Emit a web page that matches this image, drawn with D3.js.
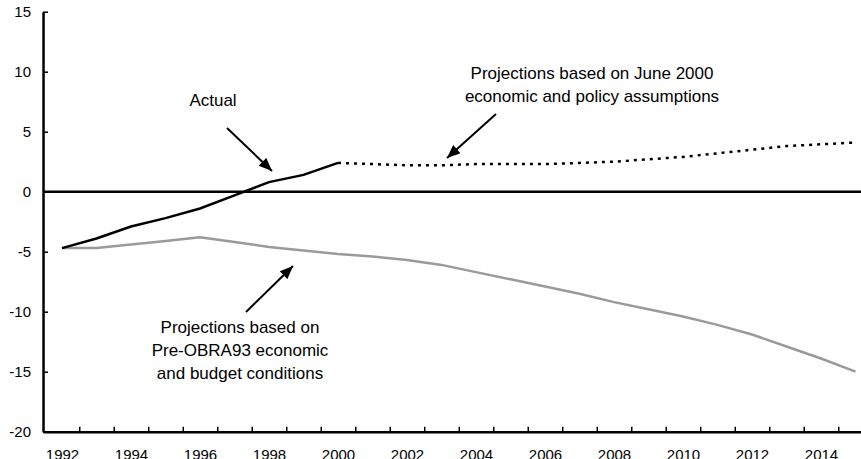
<!DOCTYPE html>
<html>
<head>
<meta charset="utf-8">
<script src="https://cdn.jsdelivr.net/npm/d3@7"></script>
<style>
  body { margin: 0; background: #fff; }
  svg { display: block; font-family: "Liberation Sans", Arial, sans-serif; }
</style>
</head>
<body>
<script>
// values, % of GDP
var actualYears = [1992, 1993, 1994, 1995, 1996, 1997, 1998, 1999, 2000];
var actualValues = [-4.7, -3.9, -2.9, -2.2, -1.4, -0.3, 0.8, 1.4, 2.4];

var juneYears = [2000, 2001, 2002, 2003, 2004, 2005, 2006, 2007, 2008, 2009, 2010, 2011, 2012, 2013, 2014, 2015];
var juneValues = [2.4, 2.3, 2.2, 2.2, 2.3, 2.3, 2.3, 2.4, 2.5, 2.7, 2.9, 3.2, 3.5, 3.8, 3.95, 4.1];

var obraYears = [1992, 1993, 1994, 1995, 1996, 1997, 1998, 1999, 2000, 2001, 2002, 2003, 2004, 2005, 2006, 2007, 2008, 2009, 2010, 2011, 2012, 2013, 2014, 2015];
var obraValues = [-4.7, -4.7, -4.4, -4.1, -3.8, -4.2, -4.6, -4.9, -5.2, -5.4, -5.7, -6.1, -6.7, -7.3, -7.9, -8.5, -9.2, -9.8, -10.4, -11.1, -11.9, -12.9, -13.9, -15.0];

var yTicks = [-20, -15, -10, -5, 0, 5, 10, 15];
var yearLabels = [1992, 1994, 1996, 1998, 2000, 2002, 2004, 2006, 2008, 2010, 2012, 2014];
var yearTicks = d3.range(1992.5, 2016, 1);

var zip = function(xs, vs) {
  return xs.map(function(d, i) { return { year: d, value: vs[i] }; });
};

var width = 861, height = 459;

var svg = d3.select('body').append('svg')
  .attr('width', width)
  .attr('height', height);

svg.append('rect').attr('width', width).attr('height', height).attr('fill', '#fff');

var x = d3.scaleLinear().domain([1992, 2014]).range([62, 821]);
var y = d3.scaleLinear().domain([-20, 15]).range([431.7, 11.7]);

var xFrame = x.copy().domain([1991.45, 2016]).range([x(1991.45), x(2016)]);

var defs = svg.append('defs');
defs.append('marker')
  .attr('id', 'head')
  .attr('viewBox', '0 0 12 10')
  .attr('refX', 12).attr('refY', 5)
  .attr('markerUnits', 'userSpaceOnUse')
  .attr('markerWidth', 14).attr('markerHeight', 11)
  .attr('orient', 'auto')
  .append('path').attr('d', 'M0,0 L12,5 L0,10 Z').attr('fill', '#000');

// y axis, plain hyphen for negatives like the original
var yAxis = svg.append('g')
  .attr('transform', 'translate(' + xFrame(1991.45) + ',0)')
  .call(d3.axisLeft(y).tickValues(yTicks).tickSizeInner(-5).tickSizeOuter(0).tickPadding(12)
    .tickFormat(function(d) { return String(d); }));

// x axis ticks
var xAxis = svg.append('g')
  .attr('transform', 'translate(0,' + y(-20) + ')')
  .call(d3.axisBottom(xFrame).tickValues(yearTicks).tickSizeInner(-5).tickSizeOuter(0).tickFormat(''));

// year labels
var xLabels = svg.append('g')
  .attr('transform', 'translate(0,' + y(-20) + ')')
  .call(d3.axisBottom(x).tickValues(yearLabels).tickSize(0).tickFormat(function(d) { return String(d); }));
xLabels.select('.domain').remove();
xLabels.selectAll('text').attr('y', 28).attr('dy', 0);

svg.selectAll('.domain').attr('stroke', '#000').attr('stroke-width', 2.5);
svg.selectAll('.tick line').attr('stroke', '#000').attr('stroke-width', 1.5);
svg.selectAll('.tick text')
  .attr('fill', '#000')
  .style('font-family', '"Liberation Sans", Arial, sans-serif')
  .style('font-size', '15px');

// zero line
svg.append('line')
  .attr('x1', xFrame(1991.45)).attr('x2', width)
  .attr('y1', y(0)).attr('y2', y(0))
  .attr('stroke', '#000').attr('stroke-width', 2.5);

var line = d3.line()
  .x(function(d) { return x(d.year); })
  .y(function(d) { return y(d.value); });

svg.append('path')
  .datum(zip(obraYears, obraValues))
  .attr('d', line)
  .attr('fill', 'none')
  .attr('stroke', '#9a9a9a')
  .attr('stroke-width', 2.5);

svg.append('path')
  .datum(zip(juneYears, juneValues))
  .attr('d', line)
  .attr('fill', 'none')
  .attr('stroke', '#000')
  .attr('stroke-width', 2.5)
  .attr('stroke-dasharray', '3,5');

svg.append('path')
  .datum(zip(actualYears, actualValues))
  .attr('d', line)
  .attr('fill', 'none')
  .attr('stroke', '#000')
  .attr('stroke-width', 2.5);

// annotations
var notes = [
  { lines: ['Actual'], x: 213, y: 106 },
  { lines: ['Projections based on June 2000', 'economic and policy assumptions'], x: 592, y: 79 },
  { lines: ['Projections based on', 'Pre-OBRA93 economic', 'and budget conditions'], x: 240, y: 333 }
];

notes.forEach(function(n) {
  var t = svg.append('text')
    .attr('x', n.x).attr('y', n.y)
    .attr('text-anchor', 'middle')
    .style('font-size', '17px')
    .attr('fill', '#000');
  n.lines.forEach(function(s, i) {
    t.append('tspan').attr('x', n.x).attr('dy', i === 0 ? 0 : 23).text(s);
  });
});

var arrows = [
  [227, 128, 272, 171],
  [496, 114, 447, 158],
  [246, 312, 293, 266]
];

svg.selectAll('line.arrow').data(arrows).enter().append('line')
  .attr('class', 'arrow')
  .attr('x1', function(d) { return d[0]; })
  .attr('y1', function(d) { return d[1]; })
  .attr('x2', function(d) { return d[2]; })
  .attr('y2', function(d) { return d[3]; })
  .attr('stroke', '#000')
  .attr('stroke-width', 2)
  .attr('marker-end', 'url(#head)');
</script>
</body>
</html>
